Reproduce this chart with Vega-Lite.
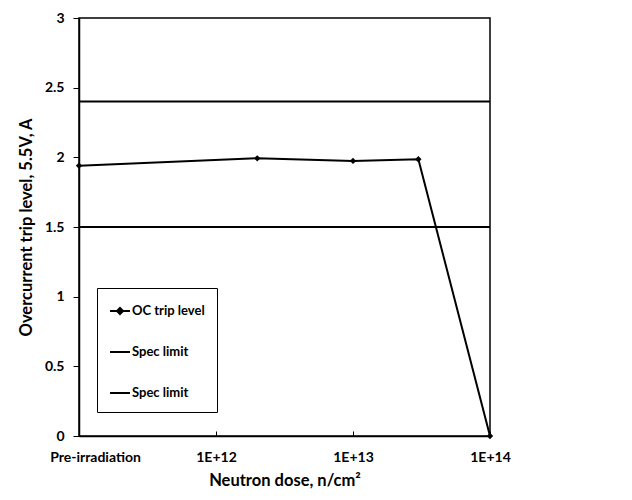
{
  "$schema": "https://vega.github.io/schema/vega-lite/v6.json",
  "width": 411,
  "height": 418,
  "autosize": {"type": "none"},
  "padding": {"left": 79, "top": 18, "right": 142, "bottom": 64},
  "background": "white",
  "config": {
    "font": "Lato",
    "view": {"stroke": "black", "strokeWidth": 1.5},
    "axis": {
      "labelFont": "Lato", "labelFontWeight": "bold", "labelFontSize": 14, "labelColor": "black",
      "titleFont": "Lato", "titleFontWeight": "bold", "titleFontSize": 16.5, "titleColor": "black",
      "domainColor": "black", "tickColor": "black", "grid": false
    }
  },
  "data": {
    "values": [
      {"series": "OC trip level", "dose": 1e11, "value": 1.94},
      {"series": "OC trip level", "dose": 2e12, "value": 1.993},
      {"series": "OC trip level", "dose": 1e13, "value": 1.974},
      {"series": "OC trip level", "dose": 3e13, "value": 1.986},
      {"series": "OC trip level", "dose": 1e14, "value": 0},
      {"series": "Spec limit", "dose": 1e11, "value": 2.4},
      {"series": "Spec limit", "dose": 1e14, "value": 2.4},
      {"series": "Spec limit ", "dose": 1e11, "value": 1.5},
      {"series": "Spec limit ", "dose": 1e14, "value": 1.5}
    ]
  },
  "layer": [
    {
      "mark": {"type": "line", "strokeWidth": 2, "clip": true},
      "encoding": {
        "x": {
          "field": "dose", "type": "quantitative",
          "scale": {"type": "log", "domain": [1e11, 1e14], "nice": false},
          "axis": {
            "title": "Neutron dose, n/cm²",
            "values": [1e11, 1e12, 1e13, 1e14],
            "labelExpr": "datum.value < 5e11 ? 'Pre-irradiation' : '1E+' + round(log(datum.value) / LN10)",
            "labelFlush": false,
            "labelOverlap": false,
            "labelOffset": {"condition": {"test": "datum.value < 5e11", "value": 16}, "value": 0},
            "tickSize": -5, "labelPadding": 19, "titlePadding": 8, "domainWidth": 1.5
          }
        },
        "y": {
          "field": "value", "type": "quantitative",
          "scale": {"domain": [0, 3], "nice": false},
          "axis": {
            "title": "Overcurrent trip level, 5.5V, A",
            "values": [0, 0.5, 1, 1.5, 2, 2.5, 3],
            "format": "~g",
            "tickSize": 6, "labelPadding": 9, "titlePadding": 10, "domainWidth": 1.5
          }
        },
        "color": {
          "field": "series", "type": "nominal",
          "scale": {"domain": ["OC trip level", "Spec limit", "Spec limit "], "range": ["black", "black", "black"]},
          "legend": {
            "title": null,
            "orient": "none",
            "legendX": 18,
            "legendY": 270,
            "strokeColor": "black",
            "fillColor": "white",
            "padding": 12,
            "rowPadding": 23,
            "symbolSize": 400,
            "symbolStrokeWidth": 2,
            "symbolStrokeColor": "black",
            "symbolFillColor": "black",
            "labelFont": "Lato",
            "labelFontWeight": "bold",
            "labelFontSize": 13,
            "labelColor": "black",
            "labelOffset": 1,
            "encode": {
              "symbols": {
                "update": {
                  "shape": {"signal": "datum.value === 'OC trip level' ? 'M-1,0H1M0,-0.3L0.3,0L0,0.3L-0.3,0Z' : 'M-1,0H1'"},
                  "fill": {"value": "black"},
                  "stroke": {"value": "black"}
                }
              }
            }
          }
        },
        "detail": {"field": "series"}
      }
    },
    {
      "transform": [{"filter": "datum.series === 'OC trip level'"}],
      "mark": {"type": "point", "shape": "diamond", "filled": true, "size": 40, "color": "black", "opacity": 1},
      "encoding": {
        "x": {"field": "dose", "type": "quantitative"},
        "y": {"field": "value", "type": "quantitative"}
      }
    }
  ]
}
